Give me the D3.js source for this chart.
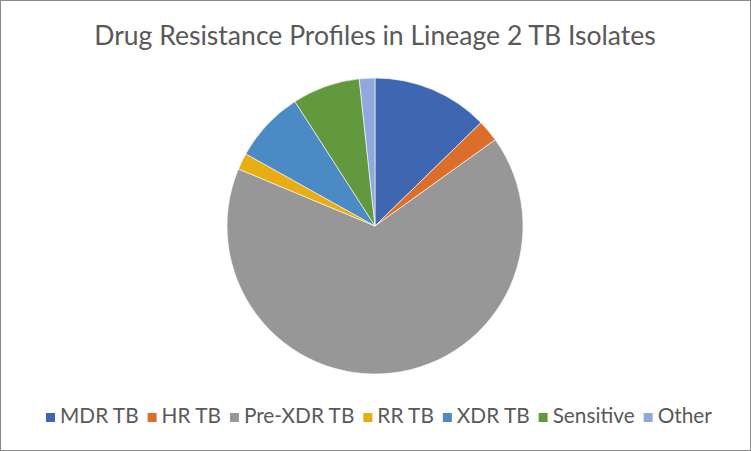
<!DOCTYPE html>
<html>
<head>
<meta charset="utf-8">
<script src="https://cdn.jsdelivr.net/npm/d3@7"></script>
<style>
  html, body { margin: 0; padding: 0; background: #fff; }
  svg { display: block; }
</style>
</head>
<body>
<svg id="chart" width="751" height="451"></svg>
<script>
// share of isolates per resistance profile (%)
const categories = ['MDR TB', 'HR TB', 'Pre-XDR TB', 'RR TB', 'XDR TB', 'Sensitive', 'Other'];
const shares = [12.7, 2.4, 66.2, 1.8, 7.8, 7.4, 1.7];
const colors = ['#3e66b1', '#dc6e2a', '#979797', '#e8ad12', '#4c8ac6', '#63993e', '#8eaadc'];
const title = 'Drug Resistance Profiles in Lineage 2 TB Isolates';

const width = 751, height = 451;
const svg = d3.select('#chart');
const font = 'Lato, "Open Sans", sans-serif';

svg.append('rect')
  .attr('x', 0.5).attr('y', 0.5)
  .attr('width', width - 1).attr('height', height - 1)
  .attr('fill', '#fff')
  .attr('stroke', '#8a8a8a');

// title, fitted to the width it takes in the reference
const titleText = svg.append('text')
  .attr('x', 375).attr('y', 45)
  .attr('text-anchor', 'middle')
  .attr('font-family', font)
  .attr('font-size', 25)
  .attr('fill', '#595959')
  .text(title);
let tw = titleText.node().getComputedTextLength();
titleText.attr('font-size', 25 * 562 / tw);

const data = categories.map((c, i) => ({name: c, value: shares[i], color: colors[i]}));

const pie = d3.pie().sort(null).value(d => d.value);
const arc = d3.arc().innerRadius(0).outerRadius(148);

svg.append('g')
  .attr('transform', 'translate(375,226)')
  .selectAll('path')
  .data(pie(data))
  .join('path')
  .attr('d', arc)
  .attr('fill', d => d.data.color)
  .attr('stroke', '#fff')
  .attr('stroke-width', 0.6);

// legend along the bottom
const legend = svg.append('g');
const items = legend.selectAll('g')
  .data(data)
  .join('g');
items.append('rect')
  .attr('width', 9).attr('height', 9)
  .attr('y', -10)
  .attr('fill', d => d.color);
const labels = items.append('text')
  .attr('x', 14)
  .attr('font-family', font)
  .attr('font-size', 16)
  .attr('fill', '#595959')
  .text(d => d.name);

let textTotal = 0;
labels.each(function () { textTotal += this.getComputedTextLength(); });
const squareAndGap = 14, itemGap = 9;
const fixed = data.length * squareAndGap + (data.length - 1) * itemGap;
const legendSpan = 666;
labels.attr('font-size', 16 * (legendSpan - fixed) / textTotal);

let xPos = 46;
items.each(function () {
  const g = d3.select(this);
  g.attr('transform', `translate(${xPos},423)`);
  xPos += squareAndGap + g.select('text').node().getComputedTextLength() + itemGap;
});
</script>
</body>
</html>
